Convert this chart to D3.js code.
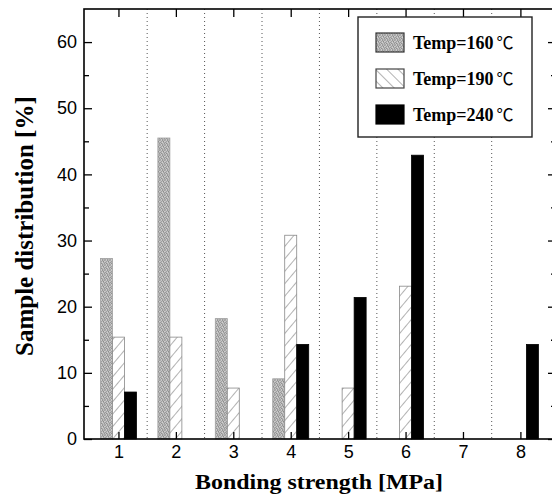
<!DOCTYPE html>
<html>
<head>
<meta charset="utf-8">
<script src="https://cdn.jsdelivr.net/npm/d3@7"></script>
<style>
  body { margin: 0; background: #fff; }
  svg { display: block; }
</style>
</head>
<body>
<svg id="chart" width="552" height="498"></svg>
<script>
// data
const categories = [1, 2, 3, 4, 5, 6, 7, 8];
const temp160 = [27.3, 45.5, 18.2, 9.1, 0, 0, 0, 0];
const temp190 = [15.4, 15.4, 7.7, 30.8, 7.7, 23.1, 0, 0];
const temp240 = [7.1, 0, 0, 14.3, 21.4, 42.9, 0, 14.3];
const seriesNames = ['Temp=160', 'Temp=190', 'Temp=240'];
const yTicks = [0, 10, 20, 30, 40, 50, 60];
const yMinor = [5, 15, 25, 35, 45, 55];

const svg = d3.select('#chart');
const plotLeft = 84, plotRight = 556, plotTop = 9, plotBottom = 439;

const x = d3.scaleLinear().domain([0.4, 8.62]).range([plotLeft, plotRight]);
const y = d3.scaleLinear().domain([0, 65]).range([plotBottom, plotTop]);

// fill patterns
const defs = svg.append('defs');
const grain = defs.append('pattern')
    .attr('id', 'grain')
    .attr('patternUnits', 'userSpaceOnUse')
    .attr('width', 5).attr('height', 5);
// speckled grey, like a halftone scan
const shades = ['#acacac', '#c8c8c8', '#959595', '#bababa', '#a2a2a2',
    '#c2c2c2', '#9f9f9f', '#bebebe', '#8c8c8c', '#cecece',
    '#9a9a9a', '#b6b6b6', '#d2d2d2', '#a6a6a6', '#b0b0b0',
    '#c6c6c6', '#909090', '#aeaeae', '#c4c4c4', '#989898',
    '#a4a4a4', '#cacaca', '#9c9c9c', '#b8b8b8', '#aaaaaa'];
shades.forEach((c, i) => {
    grain.append('rect')
        .attr('x', i % 5).attr('y', Math.floor(i / 5))
        .attr('width', 1).attr('height', 1)
        .attr('fill', c);
});

const makeHatch = (id, dir) => {
    const p = defs.append('pattern')
        .attr('id', id)
        .attr('patternUnits', 'userSpaceOnUse')
        .attr('width', 8).attr('height', 8)
        .attr('patternTransform', `rotate(${dir})`);
    p.append('rect').attr('width', 8).attr('height', 8).attr('fill', '#fff');
    p.append('line')
        .attr('x1', 0).attr('y1', 0).attr('x2', 0).attr('y2', 8)
        .attr('stroke', '#555').attr('stroke-width', 0.9);
};
makeHatch('hatch', 40);
makeHatch('hatchLegend', -45);

// dotted separators between categories
const seps = categories.slice(0, -1).map((c) => c + 0.5);
svg.append('g').selectAll('line')
    .data(seps)
    .enter()
    .append('line')
    .attr('x1', (d) => x(d)).attr('x2', (d) => x(d))
    .attr('y1', plotTop).attr('y2', plotBottom)
    .attr('stroke', '#555')
    .attr('stroke-width', 1)
    .attr('stroke-dasharray', '1,3');

// bars
const barW = 12;
const series = [
    { values: temp160, offset: -12, fill: 'url(#grain)', stroke: '#a0a0a0' },
    { values: temp190, offset: 0, fill: 'url(#hatch)', stroke: '#888' },
    { values: temp240, offset: 12, fill: '#000', stroke: '#000' }
];
series.forEach((s) => {
    svg.append('g').selectAll('rect')
        .data(categories.map((c, i) => ({ c, v: s.values[i] })).filter((d) => d.v > 0))
        .enter()
        .append('rect')
        .attr('x', (d) => x(d.c) + s.offset - barW / 2)
        .attr('y', (d) => y(d.v))
        .attr('width', barW)
        .attr('height', (d) => y(0) - y(d.v))
        .attr('fill', s.fill)
        .attr('stroke', s.stroke)
        .attr('stroke-width', 0.8);
});

// axes with inward ticks
const tickFont = 'Arial, "Liberation Sans", Helvetica, sans-serif';
svg.append('g')
    .attr('transform', `translate(${plotLeft},0)`)
    .call(d3.axisLeft(y).tickValues(yTicks).tickSize(-8).tickPadding(7));
svg.append('g')
    .attr('transform', `translate(${plotLeft},0)`)
    .call(d3.axisLeft(y).tickValues(yMinor).tickSize(-5).tickFormat(''));
svg.append('g')
    .attr('transform', `translate(${plotRight},0)`)
    .call(d3.axisRight(y).tickValues(yTicks).tickSize(-8).tickFormat(''));
svg.append('g')
    .attr('transform', `translate(${plotRight},0)`)
    .call(d3.axisRight(y).tickValues(yMinor).tickSize(-5).tickFormat(''));
svg.append('g')
    .attr('transform', `translate(0,${plotBottom})`)
    .call(d3.axisBottom(x).tickValues(categories).tickSize(-7).tickPadding(6).tickFormat(d3.format('d')));
svg.append('g')
    .attr('transform', `translate(0,${plotTop})`)
    .call(d3.axisTop(x).tickValues(categories).tickSize(-8).tickFormat(''));

svg.selectAll('.domain').remove();
svg.selectAll('.tick line').attr('stroke', '#000').attr('stroke-width', 1.3);
svg.selectAll('.tick text')
    .attr('font-family', tickFont)
    .attr('font-size', 18)
    .attr('fill', '#000');

// frame
svg.append('rect')
    .attr('x', plotLeft).attr('y', plotTop)
    .attr('width', plotRight - plotLeft).attr('height', plotBottom - plotTop)
    .attr('fill', 'none')
    .attr('stroke', '#000')
    .attr('stroke-width', 1.6);

// axis titles
const titleFont = '"Liberation Serif", "Times New Roman", serif';
svg.append('text')
    .attr('x', 319).attr('y', 489)
    .attr('text-anchor', 'middle')
    .attr('font-family', titleFont)
    .attr('font-weight', 'bold')
    .attr('font-size', 22)
    .attr('textLength', 248)
    .attr('lengthAdjust', 'spacingAndGlyphs')
    .text('Bonding strength [MPa]');
svg.append('text')
    .attr('transform', 'translate(33,356) rotate(-90)')
    .attr('text-anchor', 'start')
    .attr('font-family', titleFont)
    .attr('font-weight', 'bold')
    .attr('font-size', 25)
    .text('Sample distribution [%]');

// legend
const legend = svg.append('g');
legend.append('rect')
    .attr('x', 358).attr('y', 17)
    .attr('width', 174).attr('height', 120)
    .attr('fill', '#fff')
    .attr('stroke', '#222')
    .attr('stroke-width', 1.4);
const legendFills = ['url(#grain)', 'url(#hatchLegend)', '#000'];
const legendStrokes = ['#333', '#444', '#000'];
seriesNames.forEach((name, i) => {
    const cy = 42.5 + i * 36;
    legend.append('rect')
        .attr('x', 376).attr('y', cy - 9.5)
        .attr('width', 28).attr('height', 19)
        .attr('fill', legendFills[i])
        .attr('stroke', legendStrokes[i])
        .attr('stroke-width', 1.2);
    const t = legend.append('text')
        .attr('x', 413).attr('y', cy + 6)
        .attr('font-family', titleFont)
        .attr('font-weight', 'bold')
        .attr('font-size', 18);
    t.append('tspan').text(name);
    t.append('tspan')
        .attr('dx', 3)
        .attr('font-family', '"Noto Sans CJK SC", "DejaVu Sans", sans-serif')
        .attr('font-weight', 'normal')
        .attr('font-size', 17)
        .text('℃');
});
</script>
</body>
</html>
